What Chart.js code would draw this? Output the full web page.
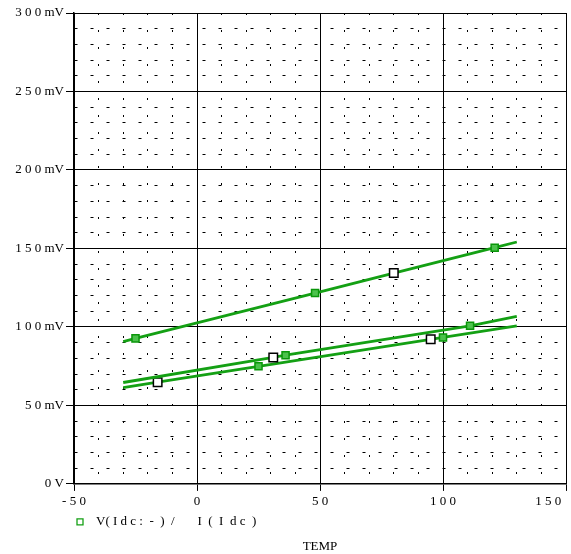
<!DOCTYPE html>
<html>
<head>
<meta charset="utf-8">
<script src="https://cdn.jsdelivr.net/npm/chart.js@4.4.1/dist/chart.umd.min.js"></script>
<style>
    body { margin: 0; background: #fff; }
    canvas { display: block; }
</style>
</head>
<body>
<canvas id="tempChart" width="571" height="554"></canvas>
<script>
// sampled points of each trace (TEMP, mV), first and last are the sweep ends
const topTemp = [-30, -25, 48, 80, 121, 130];
const topMv = [90.7, 92.7, 121.6, 134.3, 150.5, 154.1];
const midTemp = [-30, 31, 36, 111, 130];
const midMv = [64.6, 80.6, 82.0, 100.7, 106.7];
const lowTemp = [-30, -16, 25, 95, 100, 130];
const lowMv = [61.4, 64.8, 74.9, 92.1, 93.3, 100.7];

// temps where the marker is the open (white) one
const topOpen = [80];
const midOpen = [31];
const lowOpen = [-16, 95];

const xTickValues = [-50, 0, 50, 100, 150];
const xTickLabels = ['- 5 0', '0', '5 0', '1 0 0', '1 5 0           '];
const yTickValues = [0, 50, 100, 150, 200, 250, 300];
const yTickLabels = ['0 V', '5 0 mV', '1 0 0 mV', '1 5 0 mV', '2 0 0 mV', '2 5 0 mV', '3 0 0 mV'];

const legendText = '  V( I d c :  -  )  /       I  (  I  d c  )';
const axisTitle = 'TEMP';

const traceGreen = '#14a014';

Chart.defaults.font.family = "'Liberation Serif', 'Times New Roman', serif";
Chart.defaults.font.size = 13;
Chart.defaults.color = '#000';

function makeTrace(temps, values, open) {
    let last = temps.length - 1;
    let isOpen = function(ctx) {
        return open.indexOf(temps[ctx.dataIndex]) >= 0;
    };
    return {
        data: temps.map(function(t, i) { return {x: t, y: values[i]}; }),
        borderColor: traceGreen,
        borderWidth: 2.8,
        fill: false,
        tension: 0,
        pointStyle: 'rect',
        pointRadius: function(ctx) {
            if (ctx.dataIndex === 0 || ctx.dataIndex === last) return 0;
            return isOpen(ctx) ? 6 : 5;
        },
        pointHoverRadius: 0,
        pointBorderWidth: 1.5,
        pointBackgroundColor: function(ctx) { return isOpen(ctx) ? '#fff' : '#4cc24c'; },
        pointBorderColor: function(ctx) { return isOpen(ctx) ? '#000' : '#0a960a'; }
    };
}

function isMajor(ctx) {
    return ctx.tick && ctx.tick.value % 50 === 0;
}

let chart = new Chart(document.getElementById('tempChart'), {
    type: 'line',
    data: {
        datasets: [
            makeTrace(topTemp, topMv, topOpen),
            makeTrace(midTemp, midMv, midOpen),
            makeTrace(lowTemp, lowMv, lowOpen)
        ]
    },
    options: {
        responsive: false,
        animation: false,
        events: [],
        layout: {
            padding: {top: 13, left: 0, right: 5, bottom: 0}
        },
        scales: {
            x: {
                type: 'linear',
                min: -50,
                max: 150,
                afterFit: function(scale) {
                    scale.height = 28.5;
                    scale.paddingRight = 0;
                },
                ticks: {
                    stepSize: 10,
                    autoSkip: false,
                    maxRotation: 0,
                    padding: 3,
                    callback: function(value) {
                        let i = xTickValues.indexOf(value);
                        return i >= 0 ? xTickLabels[i] : '';
                    }
                },
                grid: {
                    color: '#000',
                    lineWidth: 1,
                    tickLength: 7,
                    tickColor: function(ctx) { return isMajor(ctx) ? '#000' : 'rgba(0,0,0,0)'; }
                },
                border: {
                    color: '#000',
                    width: 1.5,
                    dash: function(ctx) { return (!ctx.tick || isMajor(ctx)) ? [] : [2, 15]; }
                }
            },
            y: {
                min: 0,
                max: 300,
                afterFit: function(scale) {
                    scale.width = 74;
                },
                ticks: {
                    stepSize: 10,
                    autoSkip: false,
                    padding: 2,
                    callback: function(value) {
                        let i = yTickValues.indexOf(value);
                        return i >= 0 ? yTickLabels[i] : '';
                    }
                },
                grid: {
                    color: '#000',
                    lineWidth: 1,
                    tickLength: 8,
                    tickColor: function(ctx) { return isMajor(ctx) ? '#000' : 'rgba(0,0,0,0)'; }
                },
                border: {
                    color: '#000',
                    width: 1.5,
                    dash: function(ctx) { return (!ctx.tick || isMajor(ctx)) ? [] : [3, 13]; }
                }
            }
        },
        plugins: {
            tooltip: {enabled: false},
            legend: {
                display: true,
                position: 'bottom',
                align: 'start',
                fullSize: false,
                labels: {
                    padding: 3,
                    boxWidth: 6,
                    boxHeight: 6,
                    font: {size: 13},
                    generateLabels: function() {
                        return [{
                            text: legendText,
                            fillStyle: 'rgba(0,0,0,0)',
                            strokeStyle: traceGreen,
                            lineWidth: 1.3,
                            hidden: false,
                            datasetIndex: 0
                        }];
                    }
                }
            },
            title: {
                display: true,
                position: 'bottom',
                fullSize: false,
                text: axisTitle,
                color: '#000',
                font: {size: 13, weight: 'normal'},
                padding: {top: 0, bottom: 0}
            }
        }
    }
});
</script>
</body>
</html>
